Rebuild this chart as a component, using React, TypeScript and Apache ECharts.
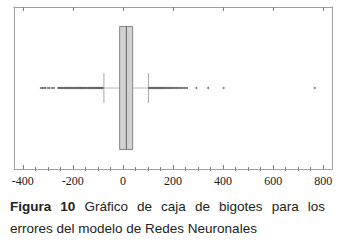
import React, { useEffect, useRef } from "react";
import * as echarts from "echarts";

const axisRange = [-435, 835];
const majorTicks = [-400, -200, 0, 200, 400, 600, 800];
const minorTicks = [-350, -300, -250, -150, -100, -50, 50, 100, 150, 250, 300, 350, 450, 500, 550, 650, 700, 750];
// [lower whisker, Q1, median, Q3, upper whisker]
const boxStats = [-76, -13, 14, 39, 102];
const lowOutliers = [-328, -322, -316, -310, -300, -293, -283, -276, -259, -254, -250, -245, -241, -236, -232, -228, -223, -219, -214, -210, -206, -201, -197, -193, -188, -184, -180, -175, -171, -167, -163, -158, -154, -150, -146, -141, -137, -133, -129, -125, -121, -117, -113, -109, -105, -102, -98, -94, -91, -87, -84, -81];
const highOutliers = [104, 108, 112, 116, 120, 124, 128, 132, 136, 141, 145, 149, 153, 158, 162, 167, 171, 176, 181, 186, 191, 196, 201, 207, 212, 218, 224, 230, 236, 243, 249, 256, 293, 340, 402, 766];
const captionBold = ["Figura", "10"];
const captionLine1 = ["Gráfico", "de", "caja", "de", "bigotes", "para", "los"];
const captionLine2 = "errores del modelo de Redes Neuronales";

const W = 346;
const H = 244;

export default function App() {
  const ref = useRef<HTMLDivElement>(null);
  useEffect(() => {
    if (!ref.current) return;
    const chart = echarts.init(ref.current, undefined, { renderer: "svg", width: W, height: H });

    const fontSize = 13.5;
    const boldFont = `bold ${fontSize}px Liberation Sans`;
    const normFont = `${fontSize}px Liberation Sans`;
    const cv = document.createElement("canvas").getContext("2d")!;
    const words = [
      ...captionBold.map((t) => ({ t, f: boldFont })),
      ...captionLine1.map((t) => ({ t, f: normFont })),
    ];
    const widths = words.map((w) => {
      cv.font = w.f;
      return cv.measureText(w.t).width;
    });
    const lineX0 = 10;
    const lineX1 = 325;
    const total = widths.reduce((a, b) => a + b, 0);
    const gap = (lineX1 - lineX0 - total) / (words.length - 1);
    const captionEls: any[] = [];
    let cx = lineX0;
    words.forEach((w, i) => {
      captionEls.push({
        type: "text",
        x: cx,
        y: 206,
        style: { text: w.t, font: w.f, fill: "#222", verticalAlign: "middle" },
      });
      cx += widths[i] + gap;
    });
    captionEls.push({
      type: "text",
      x: lineX0,
      y: 228,
      style: { text: captionLine2, font: normFont, fill: "#222", verticalAlign: "middle" },
    });

    const frameColor = "#a0a0a0";
    const tickColor = "#808080";
    const baseX = {
      type: "value",
      min: axisRange[0],
      max: axisRange[1],
      splitLine: { show: false },
    };

    chart.setOption({
      animation: false,
      grid: { left: 14, right: 14, top: 7, bottom: 75, containLabel: false },
      xAxis: [
        {
          ...baseX,
          position: "bottom",
          axisLine: { show: true, onZero: false, lineStyle: { color: frameColor, width: 1 } },
          axisTick: { show: true, inside: true, length: 4, customValues: majorTicks, lineStyle: { color: tickColor } },
          axisLabel: {
            show: true,
            customValues: majorTicks,
            margin: 6,
            fontFamily: "Liberation Serif",
            fontSize: 12,
            color: "#1a1a1a",
          },
        },
        {
          ...baseX,
          position: "bottom",
          axisLine: { show: false },
          axisTick: { show: true, inside: true, length: 2, customValues: minorTicks, lineStyle: { color: tickColor } },
          axisLabel: { show: false },
        },
        {
          ...baseX,
          position: "top",
          axisLine: { show: true, onZero: false, lineStyle: { color: frameColor, width: 1 } },
          axisTick: { show: true, inside: true, length: 4, customValues: majorTicks, lineStyle: { color: tickColor } },
          axisLabel: { show: false },
        },
        {
          ...baseX,
          position: "top",
          axisLine: { show: false },
          axisTick: { show: true, inside: true, length: 2, customValues: minorTicks, lineStyle: { color: tickColor } },
          axisLabel: { show: false },
        },
      ],
      yAxis: [
        {
          type: "value",
          min: 0,
          max: 1,
          position: "left",
          axisLine: { show: true, onZero: false, lineStyle: { color: frameColor, width: 1 } },
          axisTick: { show: false },
          axisLabel: { show: false },
          splitLine: { show: false },
        },
        {
          type: "value",
          min: 0,
          max: 1,
          position: "right",
          axisLine: { show: true, onZero: false, lineStyle: { color: frameColor, width: 1 } },
          axisTick: { show: false },
          axisLabel: { show: false },
          splitLine: { show: false },
        },
      ],
      series: [
        {
          type: "custom",
          xAxisIndex: 0,
          yAxisIndex: 0,
          data: [boxStats],
          renderItem: (params: any, api: any) => {
            const cs = params.coordSys;
            const yMid = api.coord([0, 0.5])[1];
            const px = (i: number) => api.coord([api.value(i), 0.5])[0];
            const lo = px(0), q1 = px(1), md = px(2), q3 = px(3), hi = px(4);
            const boxH = cs.height * 0.76;
            const capH = cs.height * 0.185;
            const whisk = { stroke: "#b8b8b8", lineWidth: 1 };
            const cap = { stroke: "#a8a8a8", lineWidth: 1 };
            return {
              type: "group",
              children: [
                { type: "line", shape: { x1: lo, y1: yMid, x2: q1, y2: yMid }, style: whisk },
                { type: "line", shape: { x1: q3, y1: yMid, x2: hi, y2: yMid }, style: whisk },
                { type: "line", shape: { x1: lo, y1: yMid - capH / 2, x2: lo, y2: yMid + capH / 2 }, style: cap },
                { type: "line", shape: { x1: hi, y1: yMid - capH / 2, x2: hi, y2: yMid + capH / 2 }, style: cap },
                {
                  type: "rect",
                  shape: { x: q1, y: yMid - boxH / 2, width: q3 - q1, height: boxH },
                  style: { fill: "#d2d2d2", stroke: "#858585", lineWidth: 1 },
                },
                { type: "line", shape: { x1: md, y1: yMid - boxH / 2, x2: md, y2: yMid + boxH / 2 }, style: { stroke: "#707070", lineWidth: 1.2 } },
              ],
            };
          },
          z: 2,
        },
        {
          type: "scatter",
          xAxisIndex: 0,
          yAxisIndex: 0,
          symbol: "circle",
          symbolSize: 2,
          itemStyle: { color: "#505050" },
          data: [...lowOutliers, ...highOutliers].map((v) => [v, 0.5]),
          z: 3,
        },
      ],
      graphic: captionEls,
    });
    return () => chart.dispose();
  }, []);
  return <div ref={ref} style={{ position: "absolute", left: 0, top: 0, width: W, height: H }} />;
}
